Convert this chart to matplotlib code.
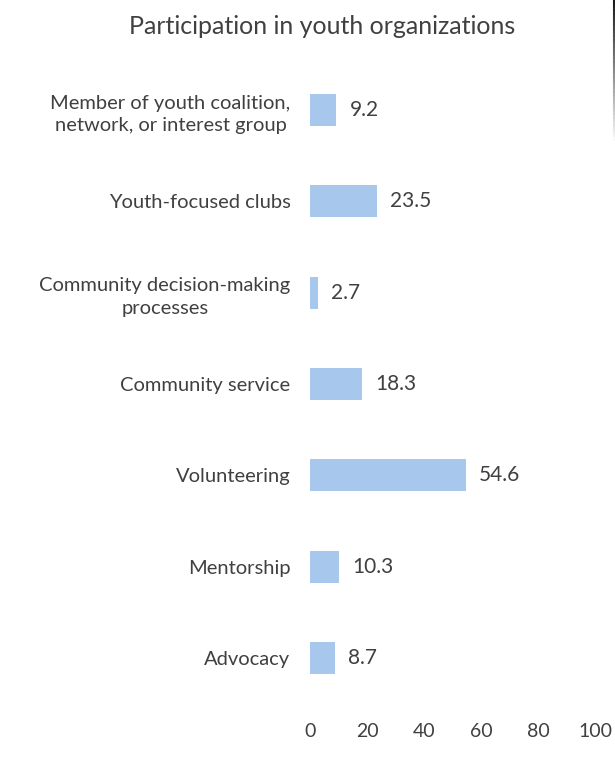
import numpy as np
import matplotlib.pyplot as plt
from matplotlib.collections import LineCollection

plt.rcParams['font.family'] = ['Lato', 'DejaVu Sans']

categories = [
    "Member of youth coalition,\nnetwork, or interest group",
    "Youth-focused clubs",
    "Community decision-making\nprocesses",
    "Community service",
    "Volunteering",
    "Mentorship",
    "Advocacy",
]
values = [9.2, 23.5, 2.7, 18.3, 54.6, 10.3, 8.7]
xticks = [0, 20, 40, 60, 80, 100]

text_color = "#404040"
bar_color = "#A7C7ED"

fig = plt.figure(figsize=(6.15, 7.61), dpi=100)
ax = fig.add_axes([0.504, 0.0754, 0.465, 0.84])

ypos = np.arange(len(categories))
ax.barh(ypos, values, height=0.35, color=bar_color)
for y, v in zip(ypos, values):
    ax.annotate(f"{v}", (v, y), xytext=(9.5, 0), textcoords="offset points",
                ha="left", va="center", fontsize=15, color=text_color)

ax.set_ylim(len(categories) - 0.5, -0.5)
ax.set_xlim(0, 100)
ax.set_yticks(ypos)
ax.set_yticklabels(categories, fontsize=14.5, color=text_color,
                   linespacing=1.4, multialignment="center")
ax.set_xticks(xticks)
ax.set_xticklabels([str(t) for t in xticks], fontsize=14, color=text_color)
ax.tick_params(axis="both", length=0)
ax.tick_params(axis="y", pad=14)
ax.tick_params(axis="x", pad=14)
for s in ax.spines.values():
    s.set_visible(False)

fig.text(0.524, 0.965, "Participation in youth organizations",
         ha="center", va="center", fontsize=18, color=text_color)

# fading border line along the right edge
ys = np.linspace(1.0, 0.81, 40)
segs = [[(0.9985, ys[i]), (0.9985, ys[i + 1])] for i in range(len(ys) - 1)]
alphas = np.linspace(1.0, 0.0, len(segs))
cols = [(0.1, 0.1, 0.1, a) for a in alphas]
fig.add_artist(LineCollection(segs, colors=cols, linewidths=1.5,
                              transform=fig.transFigure))

fig.savefig("out.png", dpi=100)
